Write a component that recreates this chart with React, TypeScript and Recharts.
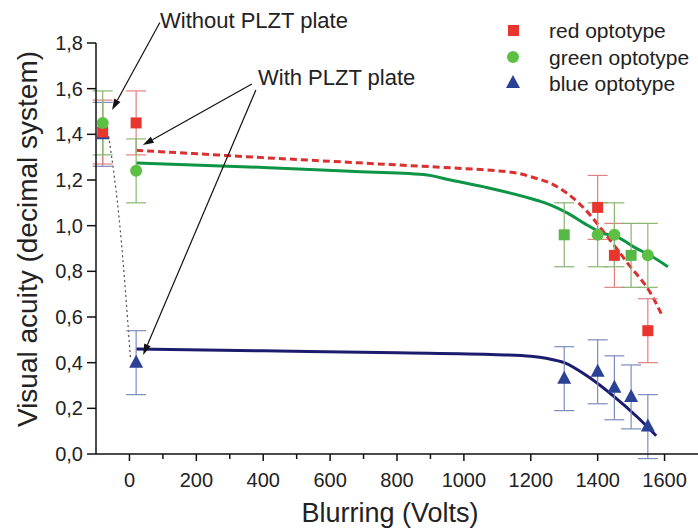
import React from "react";
import {
  ComposedChart, Line, Scatter, ErrorBar, XAxis, YAxis, ReferenceLine,
} from "recharts";

// measured points (voltage on x, decimal acuity on y)
const VOLTS = [-80, 20, 1300, 1400, 1450, 1500, 1550];
const RED_ACUITY = [1.41, 1.45, null, 1.08, 0.87, null, 0.54];
const GREEN_ACUITY = [1.45, 1.24, null, 0.96, 0.96, null, 0.87];
const GREEN_SQ_ACUITY = [null, null, 0.96, null, null, 0.87, null];
const BLUE_ACUITY = [1.40, 0.40, 0.33, 0.36, 0.29, 0.25, 0.12];
const ERROR = 0.14;

// fitted curves
const RED_FIT_X = [20, 200, 400, 600, 800, 1000, 1100, 1160, 1210, 1260, 1310, 1360, 1430, 1490, 1560, 1590];
const RED_FIT_Y = [1.33, 1.315, 1.298, 1.282, 1.266, 1.25, 1.24, 1.23, 1.21, 1.185, 1.14, 1.075, 0.95, 0.835, 0.70, 0.615];
const GREEN_FIT_X = [20, 400, 660, 880, 960, 1060, 1220, 1260, 1310, 1360, 1410, 1460, 1510, 1560, 1610];
const GREEN_FIT_Y = [1.275, 1.255, 1.238, 1.224, 1.20, 1.17, 1.11, 1.09, 1.055, 1.01, 0.97, 0.95, 0.905, 0.867, 0.82];
const BLUE_FIT_X = [20, 400, 800, 1100, 1200, 1250, 1300, 1370, 1450, 1520, 1575];
const BLUE_FIT_Y = [0.46, 0.452, 0.443, 0.435, 0.428, 0.418, 0.40, 0.34, 0.25, 0.16, 0.08];
const DOTTED_X = [-62, -28, 3];
const DOTTED_Y = [1.39, 0.99, 0.42];

const X_TICKS = [0, 100, 200, 300, 400, 500, 600, 700, 800, 900, 1000, 1100, 1200, 1300, 1400, 1500, 1600];
const Y_TICKS = [0, 0.1, 0.2, 0.3, 0.4, 0.5, 0.6, 0.7, 0.8, 0.9, 1.0, 1.1, 1.2, 1.3, 1.4, 1.5, 1.6, 1.7, 1.8];

// annotation arrows: [fromX, fromY, toX, toY]
const ARROWS = [
  [91, 1.89, -52, 1.507],
  [366, 1.62, 40, 1.353],
  [378, 1.594, 41, 0.434],
];

const FONT = "'Liberation Sans', Arial, sans-serif";

const points = (ys: (number | null)[]) =>
  VOLTS.map((x, i) => ({ x, y: ys[i], err: ERROR })).filter((p) => p.y !== null);
const curve = (xs: number[], ys: number[]) => xs.map((x, i) => ({ x, y: ys[i] }));

const Square = (props: any) => (
  <rect x={props.cx - 5.5} y={props.cy - 5.5} width={11} height={11} fill={props.fill} />
);
const Circle = (props: any) => <circle cx={props.cx} cy={props.cy} r={6} fill={props.fill} />;
const Triangle = (props: any) => (
  <polygon
    points={`${props.cx},${props.cy - 8} ${props.cx - 7},${props.cy + 5} ${props.cx + 7},${props.cy + 5}`}
    fill={props.fill}
  />
);

const XTick = ({ x, y, payload }: any) => {
  const major = payload.value % 200 === 0;
  return (
    <g>
      <line x1={x} x2={x} y1={y} y2={y + (major ? 7 : 5)} stroke="#111" strokeWidth={1.5} />
      {major && (
        <text x={x} y={y + 33} textAnchor="middle" fontSize={20} fill="#222" fontFamily={FONT}>
          {payload.value}
        </text>
      )}
    </g>
  );
};

const YTick = ({ x, y, payload }: any) => {
  const major = Math.round(payload.value * 10) % 2 === 0;
  return (
    <g>
      <line x1={x - (major ? 9 : 5)} x2={x} y1={y} y2={y} stroke="#111" strokeWidth={1.5} />
      {major && (
        <text x={x - 13} y={y + 7} textAnchor="end" fontSize={20} fill="#222" fontFamily={FONT}>
          {payload.value.toFixed(1).replace(".", ",")}
        </text>
      )}
    </g>
  );
};

const Arrow = (props: any) => {
  const { x1, y1, x2, y2 } = props;
  const a = Math.atan2(y2 - y1, x2 - x1);
  const len = 11, w = 3.5;
  const bx = x2 - len * Math.cos(a), by = y2 - len * Math.sin(a);
  const px = -Math.sin(a) * w, py = Math.cos(a) * w;
  return (
    <g>
      <line x1={x1} y1={y1} x2={bx} y2={by} stroke="#111" strokeWidth={1.2} />
      <polygon points={`${x2},${y2} ${bx + px},${by + py} ${bx - px},${by - py}`} fill="#111" />
    </g>
  );
};

export default function App() {
  return (
    <div style={{ position: "absolute", left: 0, top: 0, background: "#fff" }}>
      <ComposedChart width={698} height={529} margin={{ top: 43, right: 0, bottom: 0, left: 0 }}>
        <XAxis
          type="number"
          dataKey="x"
          domain={[-100, 1700]}
          ticks={X_TICKS}
          tick={<XTick />}
          tickSize={0}
          tickMargin={0}
          tickLine={false}
          axisLine={{ stroke: "#111", strokeWidth: 1.5 }}
          height={75}
          allowDataOverflow
        />
        <YAxis
          type="number"
          domain={[0, 1.8]}
          ticks={Y_TICKS}
          tick={<YTick />}
          tickSize={0}
          tickMargin={0}
          tickLine={false}
          axisLine={{ stroke: "#111", strokeWidth: 1.5 }}
          width={96}
          allowDataOverflow
        />

        <Line data={curve(DOTTED_X, DOTTED_Y)} dataKey="y" type="monotone" stroke="#555" strokeWidth={1.3}
          strokeDasharray="1 4" strokeLinecap="round" dot={false} isAnimationActive={false} />
        <Line data={curve(GREEN_FIT_X, GREEN_FIT_Y)} dataKey="y" type="monotone" stroke="#0e9445" strokeWidth={3}
          dot={false} isAnimationActive={false} />
        <Line data={curve(RED_FIT_X, RED_FIT_Y)} dataKey="y" type="monotone" stroke="#d93030" strokeWidth={3}
          strokeDasharray="7 4" dot={false} isAnimationActive={false} />
        <Line data={curve(BLUE_FIT_X, BLUE_FIT_Y)} dataKey="y" type="monotone" stroke="#1c1c6e" strokeWidth={3}
          dot={false} isAnimationActive={false} />

        <Scatter data={points(BLUE_ACUITY)} dataKey="y" fill="#2a4196" shape={Triangle} isAnimationActive={false}>
          <ErrorBar dataKey="err" direction="y" width={10} stroke="#7d8cc0" strokeWidth={1.2} />
        </Scatter>
        <Scatter data={points(RED_ACUITY)} dataKey="y" fill="#e8352e" shape={Square} isAnimationActive={false}>
          <ErrorBar dataKey="err" direction="y" width={10} stroke="#e08080" strokeWidth={1.2} />
        </Scatter>
        <Scatter data={points(GREEN_SQ_ACUITY)} dataKey="y" fill="#58b845" shape={Square} isAnimationActive={false}>
          <ErrorBar dataKey="err" direction="y" width={10} stroke="#8ab070" strokeWidth={1.2} />
        </Scatter>
        <Scatter data={points(GREEN_ACUITY)} dataKey="y" fill="#5cc045" shape={Circle} isAnimationActive={false}>
          <ErrorBar dataKey="err" direction="y" width={10} stroke="#8ab870" strokeWidth={1.2} />
        </Scatter>

        {ARROWS.map((a, i) => (
          <ReferenceLine key={i} segment={[{ x: a[0], y: a[1] }, { x: a[2], y: a[3] }]}
            ifOverflow="visible" shape={Arrow} />
        ))}

        <text x={160} y={28} fontSize={22} fill="#222" fontFamily={FONT}>Without PLZT plate</text>
        <text x={258} y={85} fontSize={22} fill="#222" fontFamily={FONT}>With PLZT plate</text>

        {/* legend */}
        <rect x={508} y={25} width={11} height={11} fill="#e8352e" />
        <circle cx={513} cy={57} r={6} fill="#5cc045" />
        <polygon points="513,75 506,88 520,88" fill="#2a4196" />
        <text x={549} y={38} fontSize={21} fill="#222" fontFamily={FONT}>red optotype</text>
        <text x={549} y={65} fontSize={21} fill="#222" fontFamily={FONT}>green optotype</text>
        <text x={549} y={91} fontSize={21} fill="#222" fontFamily={FONT}>blue optotype</text>

        <text x={390} y={522} textAnchor="middle" fontSize={27} fill="#222" fontFamily={FONT}>Blurring (Volts)</text>
        <text x={37} y={239} transform="rotate(-90 37 239)" textAnchor="middle" fontSize={28} fill="#222"
          fontFamily={FONT}>Visual acuity (decimal system)</text>
      </ComposedChart>
    </div>
  );
}
